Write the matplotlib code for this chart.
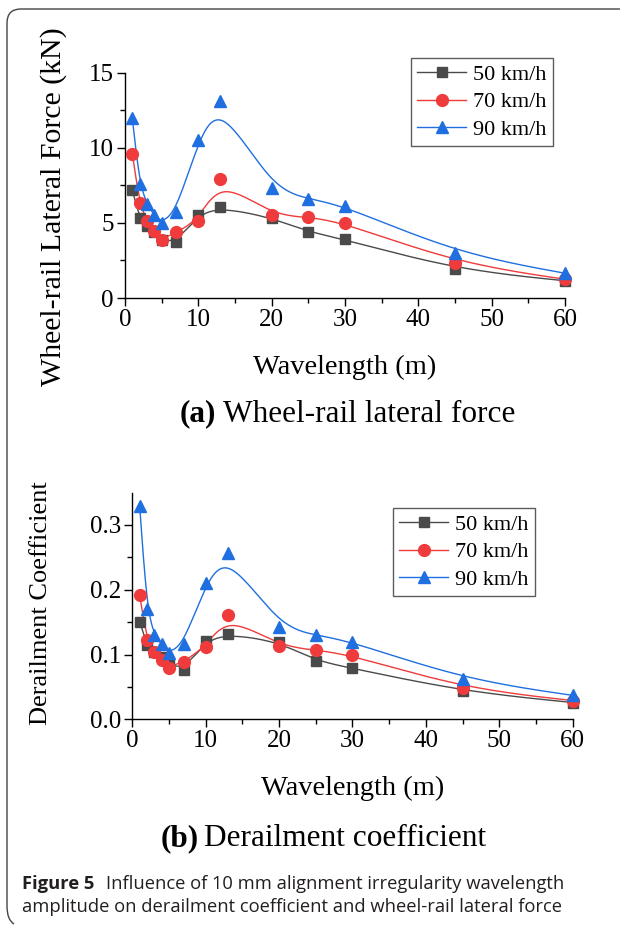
import numpy as np
import matplotlib
matplotlib.use("Agg")
import matplotlib.pyplot as plt
from matplotlib.lines import Line2D
from matplotlib.path import Path
from matplotlib.patches import PathPatch

# ── data ────────────────────────────────────────────────────────────────────
wavelength = [1, 2, 3, 4, 5, 7, 10, 13, 20, 25, 30, 45, 60]
speeds     = ["50 km/h", "70 km/h", "90 km/h"]

force_50 = [7.2, 5.3, 4.8, 4.4, 3.85, 3.7, 5.55, 6.05, 5.35, 4.4, 3.9, 1.9, 1.15]
force_70 = [9.6, 6.3, 5.1, 4.45, 3.85, 4.4, 5.15, 7.95, 5.5, 5.4, 5.0, 2.35, 1.25]
force_90 = [11.95, 7.6, 6.25, 5.5, 5.0, 5.75, 10.5, 13.1, 7.3, 6.6, 6.15, 3.0, 1.65]

derail_50 = [0.151, 0.115, 0.104, 0.097, 0.086, 0.076, 0.121, 0.132, 0.120, 0.090, 0.079, 0.043, 0.026]
derail_70 = [0.192, 0.122, 0.104, 0.092, 0.080, 0.089, 0.112, 0.161, 0.113, 0.107, 0.099, 0.048, 0.029]
derail_90 = [0.330, 0.171, 0.130, 0.116, 0.102, 0.116, 0.210, 0.257, 0.143, 0.130, 0.120, 0.062, 0.037]

colors  = ["#4a4a4a", "#ef3b3b", "#1f6fe0"]
markers = ["s", "o", "^"]
msizes  = [7.5, 8.5, 9]

SERIF = "Liberation Serif"
plt.rcParams["font.family"] = [SERIF, "DejaVu Serif"]


def bspline(xs, ys, n=60):
    """Clamped uniform cubic B-spline using the data points as control points."""
    px = np.r_[[xs[0]] * 2, xs, [xs[-1]] * 2].astype(float)
    py = np.r_[[ys[0]] * 2, ys, [ys[-1]] * 2].astype(float)
    t = np.linspace(0, 1, n)
    b0 = (1 - t) ** 3 / 6
    b1 = (3 * t**3 - 6 * t**2 + 4) / 6
    b2 = (-3 * t**3 + 3 * t**2 + 3 * t + 1) / 6
    b3 = t**3 / 6
    cx, cy = [], []
    for i in range(len(px) - 3):
        cx.append(b0 * px[i] + b1 * px[i + 1] + b2 * px[i + 2] + b3 * px[i + 3])
        cy.append(b0 * py[i] + b1 * py[i + 1] + b2 * py[i + 2] + b3 * py[i + 3])
    return np.concatenate(cx), np.concatenate(cy)


def draw_panel(ax, series, ylim, ymajor, yminor, yfmt, ylabel, ylab_size,
               ylab_xy, leg_anchor):
    for ys, c, m, ms, lab in zip(series, colors, markers, msizes, speeds):
        sx, sy = bspline(wavelength, ys)
        ax.plot(sx, sy, color=c, lw=1.0, zorder=2)
        ax.plot(wavelength, ys, ls="none", marker=m, ms=ms, color=c,
                mec=c, zorder=3, clip_on=False)
    handles = [Line2D([], [], color=c, lw=1.0, marker=m, ms=ms, mec=c)
               for c, m, ms in zip(colors, markers, msizes)]
    leg = ax.legend(handles, speeds, loc="upper right", bbox_to_anchor=leg_anchor,
                    prop={"family": SERIF, "size": 16}, frameon=True,
                    fancybox=False, edgecolor="#333333", handlelength=2.2,
                    handletextpad=0.3, borderpad=0.3, labelspacing=0.3,
                    borderaxespad=0)
    leg.get_frame().set_linewidth(1.0)

    ax.set_xlim(0, 60)
    ax.set_ylim(*ylim)
    ax.set_xticks(range(0, 61, 10))
    ax.set_xticks(range(5, 60, 10), minor=True)
    ax.set_yticks(ymajor)
    ax.set_yticks(yminor, minor=True)
    ax.set_yticklabels([yfmt.format(v) for v in ymajor])
    for s in ("top", "right"):
        ax.spines[s].set_visible(False)
    for s in ("left", "bottom"):
        ax.spines[s].set_linewidth(1.0)
    ax.tick_params(which="major", direction="out", length=6, width=1.0,
                   labelsize=18, pad=2)
    ax.tick_params(which="minor", direction="out", length=3.5, width=1.0)
    ax.set_xlabel("Wavelength (m)", fontsize=20.5, labelpad=17)
    ax.set_ylabel(ylabel, fontsize=ylab_size)
    ax.yaxis.set_label_coords(*ylab_xy)


fig = plt.figure(figsize=(6.24, 9.27), dpi=100)

ax1 = fig.add_axes([0.2003, 0.6785, 0.705, 0.2431])
draw_panel(ax1, [force_50, force_70, force_90], (0, 15),
           [0, 5, 10, 15], [2.5, 7.5, 12.5], "{:g}",
           "Wheel-rail Lateral Force (kN)", 21.5, (-0.132, 0.404),
           (0.973, 1.065))

ax2 = fig.add_axes([0.212, 0.2240, 0.7058, 0.2446])
draw_panel(ax2, [derail_50, derail_70, derail_90], (0, 0.35),
           [0.0, 0.1, 0.2, 0.3], [0.05, 0.15, 0.25], "{:.1f}",
           "Derailment Coefficient", 19, (-0.182, 0.513),
           (0.914, 0.932))

# sub-captions
fig.text(0.288, 1 - 414 / 927, "(a)", fontweight="bold",
         fontsize=22.5, ha="left", va="center")
fig.text(0.357, 1 - 414 / 927, "Wheel-rail lateral force",
         fontsize=22.5, ha="left", va="center")
fig.text(0.258, 1 - 839 / 927, "(b)", fontweight="bold",
         fontsize=22.5, ha="left", va="center")
fig.text(0.327, 1 - 839 / 927, "Derailment coefficient",
         fontsize=22.5, ha="left", va="center")

# figure caption
cap_col = "#231f20"
fig.text(22 / 624, 1 - 884 / 927, "Figure 5", fontfamily="Open Sans",
         fontweight="bold", fontsize=13.2, color=cap_col, ha="left", va="center")
fig.text(106 / 624, 1 - 884 / 927,
         "Influence of 10 mm alignment irregularity wavelength",
         fontfamily="Open Sans", fontsize=13.2, color=cap_col, ha="left", va="center")
fig.text(22 / 624, 1 - 907 / 927,
         "amplitude on derailment coefficient and wheel-rail lateral force",
         fontfamily="Open Sans", fontsize=13.2, color=cap_col, ha="left", va="center")

# rounded frame (top and left edges only)
W, H, r = 624.0, 927.0, 14.0
xl, yt, yb, xr = 7.0, 9.0, 920.0, 620.0
verts = [(xr, yt), (xl + r, yt), (xl, yt), (xl, yt + r), (xl, yb - r),
         (xl, yb), (xl + r * 0.5, yb + 4)]
codes = [Path.MOVETO, Path.LINETO, Path.CURVE3, Path.CURVE3, Path.LINETO,
         Path.CURVE3, Path.CURVE3]
verts = [(x / W, 1 - y / H) for x, y in verts]
fig.patches.append(PathPatch(Path(verts, codes), transform=fig.transFigure,
                             fill=False, edgecolor="#444444", lw=1.0))

fig.savefig("out.png", dpi=100)
